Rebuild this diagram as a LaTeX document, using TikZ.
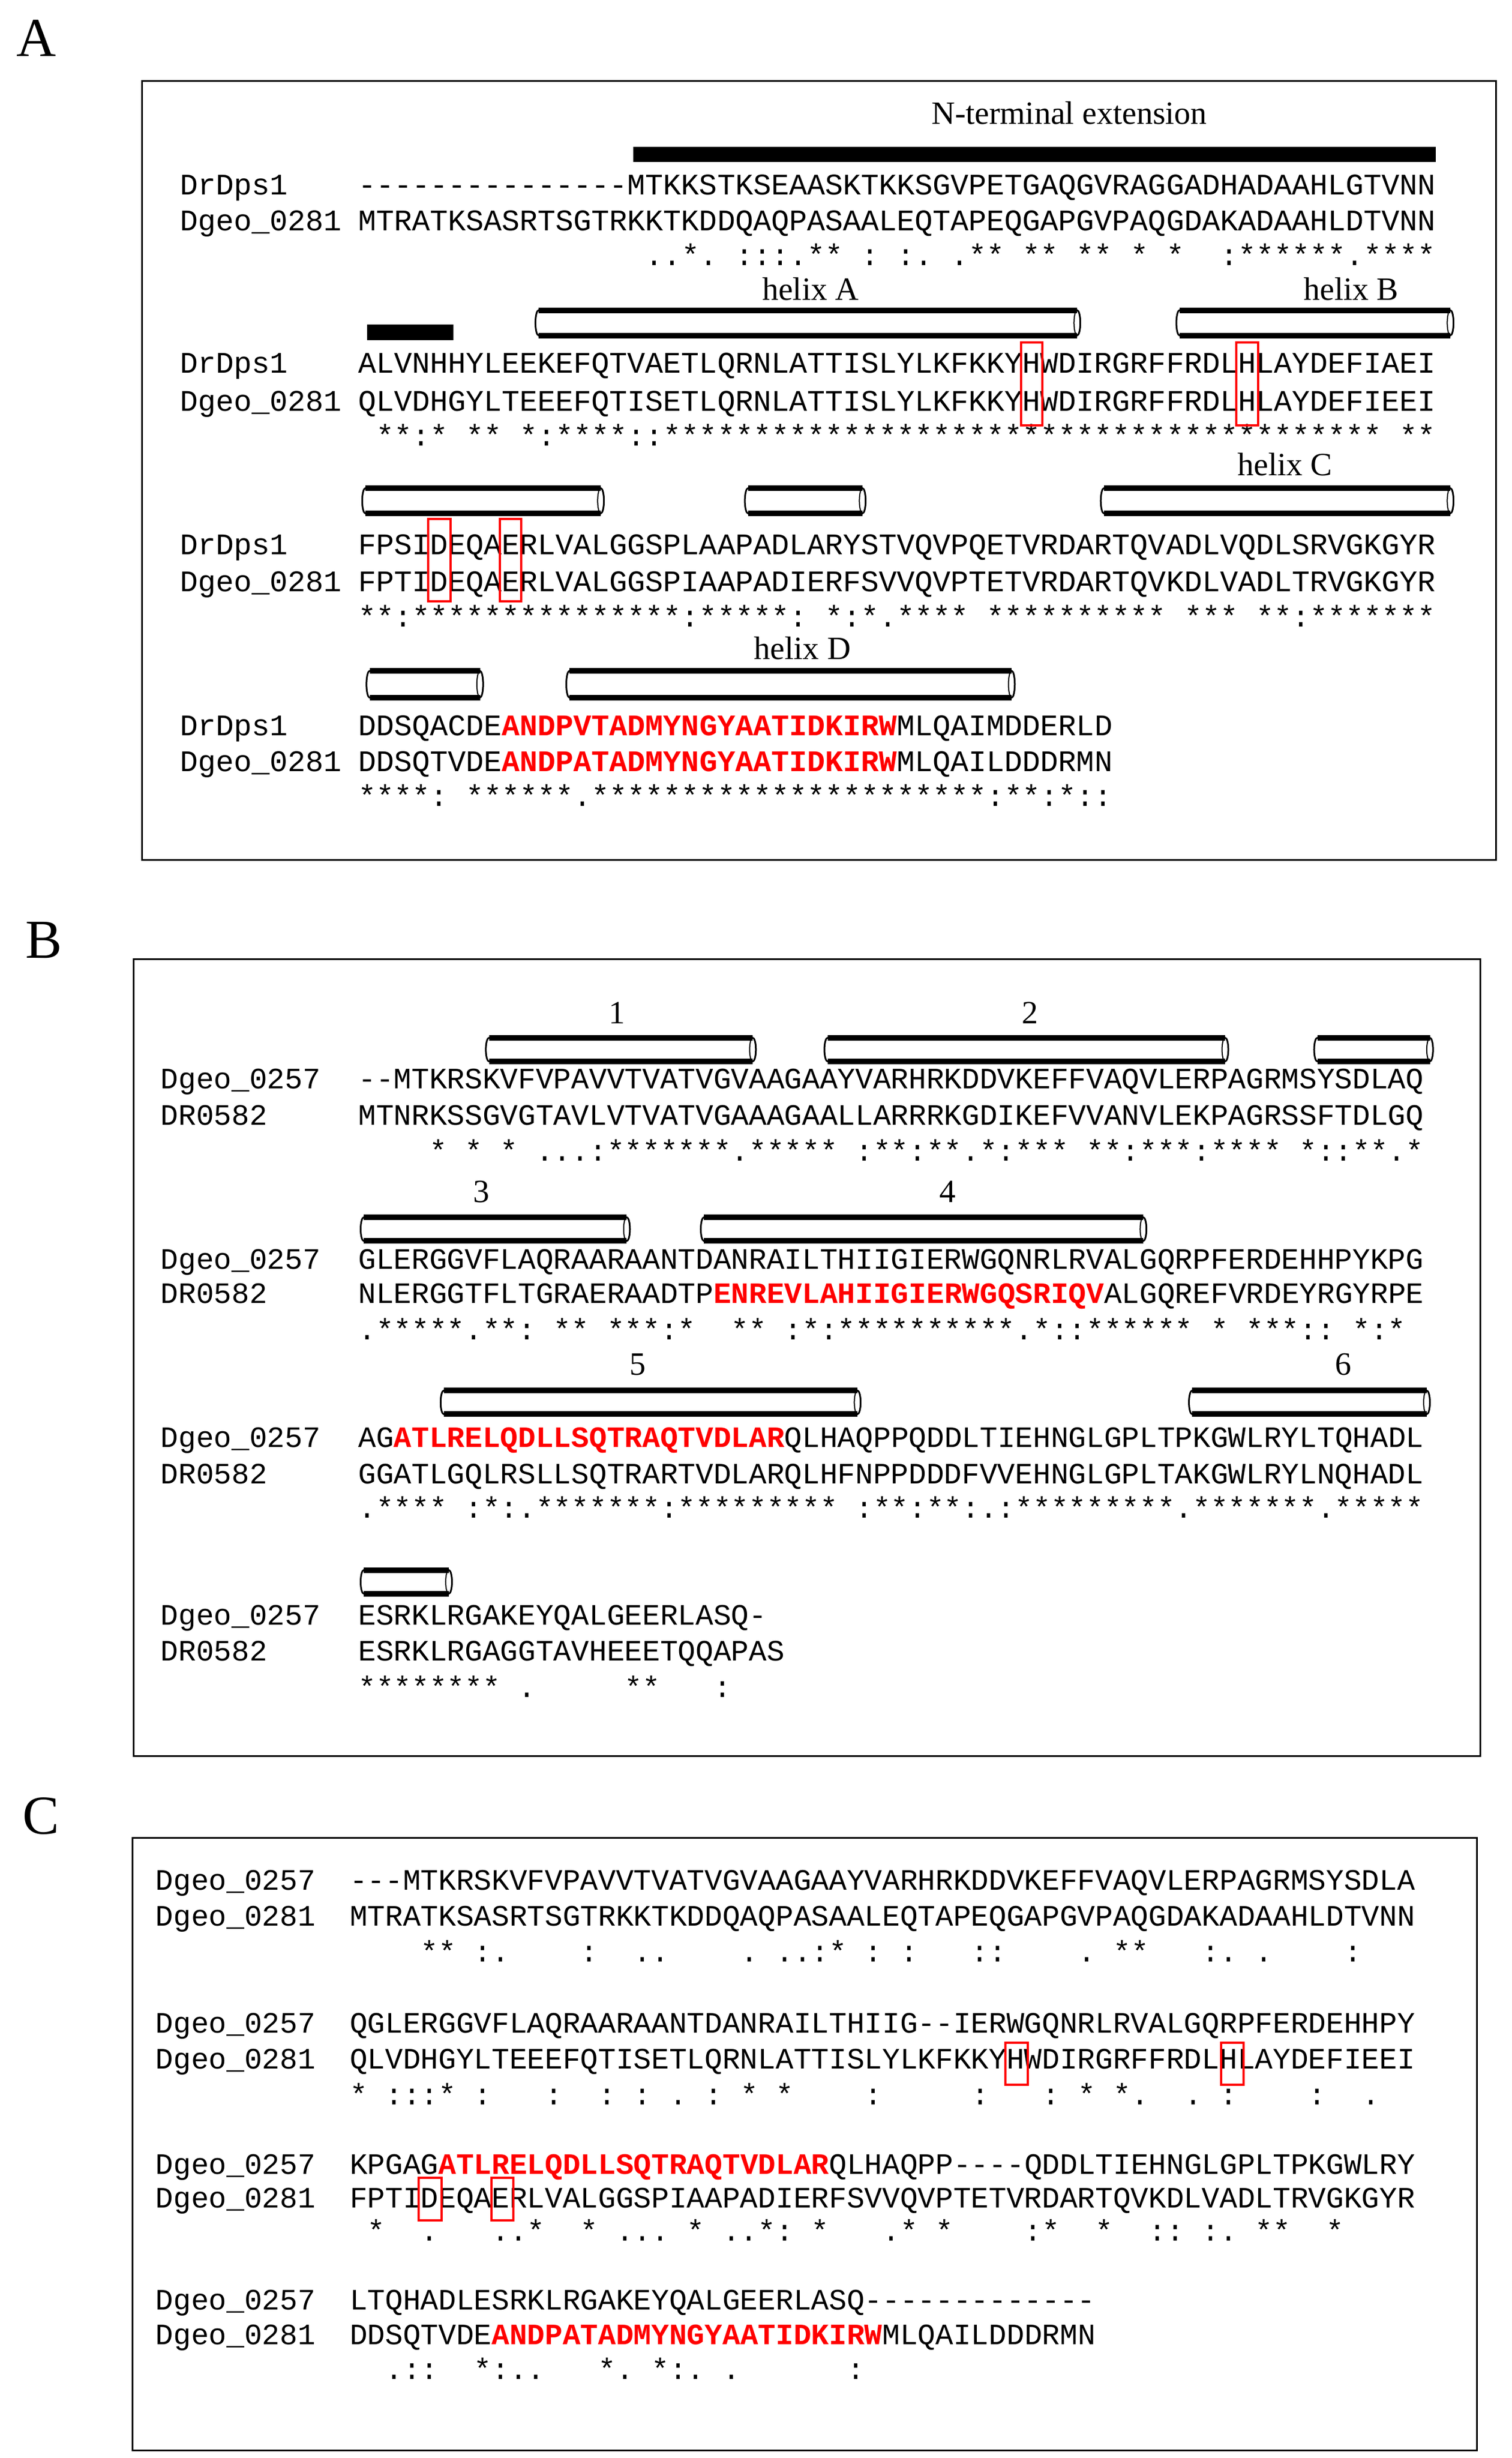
\documentclass[tikz,border=0pt]{standalone}
\usepackage{fontspec}
\setmainfont{Liberation Serif}
\setmonofont{Liberation Mono}
\newcommand\fa{\ttfamily\fontsize{53.4}{53.4}\selectfont}
\newcommand\fb{\ttfamily\fontsize{52.8}{52.8}\selectfont}
\newcommand\redb[1]{\textcolor{red}{\bfseries #1}}
\newcommand\hcyl[4]{%
  \pgfmathsetmacro\hry{(#4-#3)/2}%
  \draw[line width=3pt,fill=white] (#1+2,#3) -- (#2,#3) arc[start angle=-90,end angle=90,x radius=2,y radius=\hry] -- (#1+2,#4) arc[start angle=90,end angle=270,x radius=2,y radius=\hry] -- cycle;
  \draw[line width=10pt] (#1+2,#3) -- (#2,#3) (#1+2,#4) -- (#2,#4);
  \draw[line width=2pt] (#2,{(#3+#4)/2}) ellipse [x radius=2, y radius=\hry];
}
\begin{document}
\begin{tikzpicture}[x=2.81pt,y=-2.81pt,
  sa/.style={anchor=base west,inner sep=0,font=\fa},
  sb/.style={anchor=base west,inner sep=0,font=\fb},
  lab/.style={anchor=base,inner sep=0,font=\fontsize{58}{58}\selectfont},
  panel/.style={anchor=base,inner sep=0,font=\fontsize{98}{98}\selectfont},
  frame/.style={draw=black,line width=3pt},
  rbox/.style={draw=red,line width=4pt}]
\useasboundingbox (0,0) rectangle (960.14,1560.85);
% ---------------- Panel A
\node[panel] (pA) at (23,35.6) {A};
\draw[frame] (90.3,51.3) rectangle (950,546);
\node[lab] (nterm) at (679,78.9) {N-terminal extension};
\fill (402,93.1) rectangle (911.7,103);
\node[sa] (a1n1) at (114.4,123.5) {DrDps1};
\node[sa] (a1n2) at (114.4,146.5) {Dgeo\_0281};
\node[sa] (a1s1) at (227.4,123.5) {---------------MTKKSTKSEAASKTKKSGVPETGAQGVRAGGADHADAAHLGTVNN};
\node[sa] (a1s2) at (227.4,146.5) {MTRATKSASRTSGTRKKTKDDQAQPASAALEQTAPEQGAPGVPAQGDAKADAAHLDTVNN};
\node[sa] (a1c) at (227.4,168.5) {~~~~~~~~~~~~~~~~..*.~:::.**~:~:.~.**~**~**~*~*~~:******.****};
% row 2
\node[lab] (hA) at (514.7,190.4) {helix A};
\node[lab] (hB) at (858,190.4) {helix B};
\fill (233,206) rectangle (288,216);
\hcyl{340}{684}{197}{213}
\hcyl{747}{921}{197}{213}
\node[sa] (a2n1) at (114.4,237) {DrDps1};
\node[sa] (a2n2) at (114.4,261) {Dgeo\_0281};
\node[sa] (a2s1) at (227.4,237) {ALVNHHYLEEKEFQTVAETLQRNLATTISLYLKFKKYHWDIRGRFFRDLHLAYDEFIAEI};
\node[sa] (a2s2) at (227.4,261) {QLVDHGYLTEEEFQTISETLQRNLATTISLYLKFKKYHWDIRGRFFRDLHLAYDEFIEEI};
\node[sa] (a2c) at (227.4,283) {~**:*~**~*:****::****************************************~**};
\draw[rbox] (648.5,217.5) rectangle (662,270);
\draw[rbox] (785,217.5) rectangle (799,270);
% row 3
\node[lab] (hC) at (816,302) {helix C};
\hcyl{230}{381.5}{310}{326}
\hcyl{473}{547.7}{310}{326}
\hcyl{699}{921}{310}{326}
\node[sa] (a3n1) at (114.4,352) {DrDps1};
\node[sa] (a3n2) at (114.4,375.7) {Dgeo\_0281};
\node[sa] (a3s1) at (227.4,352) {FPSIDEQAERLVALGGSPLAAPADLARYSTVQVPQETVRDARTQVADLVQDLSRVGKGYR};
\node[sa] (a3s2) at (227.4,375.7) {FPTIDEQAERLVALGGSPIAAPADIERFSVVQVPTETVRDARTQVKDLVADLTRVGKGYR};
\node[sa] (a3c) at (227.4,398) {**:***************:*****:~*:*.****~**********~***~**:*******};
\draw[rbox] (272,329.5) rectangle (286,382);
\draw[rbox] (317.5,329.5) rectangle (331,382);
% row 4
\node[lab] (hD) at (509.5,418.5) {helix D};
\hcyl{232.7}{304.8}{426}{443}
\hcyl{359.6}{642.4}{426}{443}
\node[sa] (a4n1) at (114.4,467) {DrDps1};
\node[sa] (a4n2) at (114.4,490) {Dgeo\_0281};
\node[sa] (a4s1) at (227.4,467) {DDSQACDE\redb{ANDPVTADMYNGYAATIDKIRW}MLQAIMDDERLD};
\node[sa] (a4s2) at (227.4,490) {DDSQTVDE\redb{ANDPATADMYNGYAATIDKIRW}MLQAILDDDRMN};
\node[sa] (a4c) at (227.4,512) {****:~******.**********************:**:*::};
% ---------------- Panel B
\node[panel] (pB) at (28,608.5) {B};
\draw[frame] (85,609) rectangle (940,1115);
\node[lab] (b1) at (391.9,650) {1};
\node[lab] (b2) at (654,650) {2};
\hcyl{308.5}{478}{659}{674}
\hcyl{523.5}{778}{659}{674}
\hcyl{834.5}{908}{659}{674}
\node[sb] (b1n1) at (102,691.4) {Dgeo\_0257};
\node[sb] (b1n2) at (102,714.4) {DR0582};
\node[sb] (b1s1) at (227.5,691.4) {--MTKRSKVFVPAVVTVATVGVAAGAAYVARHRKDDVKEFFVAQVLERPAGRMSYSDLAQ};
\node[sb] (b1s2) at (227.5,714.4) {MTNRKSSGVGTAVLVTVATVGAAAGAALLARRRKGDIKEFVVANVLEKPAGRSSFTDLGQ};
\node[sb] (b1c) at (227.5,737) {~~~~*~*~*~...:*******.*****~:**:**.*:***~**:***:****~*::**.*};
\node[lab] (b3) at (305.7,763.6) {3};
\node[lab] (b4) at (601.8,763.6) {4};
\hcyl{229}{398}{773}{788}
\hcyl{445}{726}{773}{788}
\node[sb] (b2n1) at (102,805.7) {Dgeo\_0257};
\node[sb] (b2n2) at (102,827.5) {DR0582};
\node[sb] (b2s1) at (227.5,805.7) {GLERGGVFLAQRAARAANTDANRAILTHIIGIERWGQNRLRVALGQRPFERDEHHPYKPG};
\node[sb] (b2s2) at (227.5,827.5) {NLERGGTFLTGRAERAADTP\redb{ENREVLAHIIGIERWGQSRIQV}ALGQREFVRDEYRGYRPE};
\node[sb] (b2c) at (227.5,850.8) {.*****.**:~**~***:*~~**~:*:**********.*::******~*~***::~*:*};
\node[lab] (b5) at (405,873) {5};
\node[lab] (b6) at (853,873) {6};
\hcyl{279.8}{544.5}{883}{898}
\hcyl{755}{906}{883}{898}
\node[sb] (b3n1) at (102,919) {Dgeo\_0257};
\node[sb] (b3n2) at (102,942) {DR0582};
\node[sb] (b3s1) at (227.5,919) {AG\redb{ATLRELQDLLSQTRAQTVDLAR}QLHAQPPQDDLTIEHNGLGPLTPKGWLRYLTQHADL};
\node[sb] (b3s2) at (227.5,942) {GGATLGQLRSLLSQTRARTVDLARQLHFNPPDDDFVVEHNGLGPLTAKGWLRYLNQHADL};
\node[sb] (b3c) at (227.5,963.8) {.****~:*:.*******:*********~:**:**:.:*********.*******.*****};
\hcyl{229}{285}{997}{1012}
\node[sb] (b4n1) at (102,1032) {Dgeo\_0257};
\node[sb] (b4n2) at (102,1054.5) {DR0582};
\node[sb] (b4s1) at (227.5,1032) {ESRKLRGAKEYQALGEERLASQ-};
\node[sb] (b4s2) at (227.5,1054.5) {ESRKLRGAGGTAVHEEETQQAPAS};
\node[sb] (b4c) at (227.5,1077.6) {********~.~~~~~**~~~:};
% ---------------- Panel C
\node[panel] (pC) at (26,1164.5) {C};
\draw[frame] (84,1167) rectangle (938,1556);
\node[sb] (c1n1) at (98.8,1200) {Dgeo\_0257};
\node[sb] (c1n2) at (98.8,1223) {Dgeo\_0281};
\node[sb] (c1s1) at (222,1200) {---MTKRSKVFVPAVVTVATVGVAAGAAYVARHRKDDVKEFFVAQVLERPAGRMSYSDLA};
\node[sb] (c1s2) at (222,1223) {MTRATKSASRTSGTRKKTKDDQAQPASAALEQTAPEQGAPGVPAQGDAKADAAHLDTVNN};
\node[sb] (c1c) at (222,1245.6) {~~~~**~:.~~~~:~~..~~~~.~..:*~:~:~~~::~~~~.~**~~~:.~.~~~~:};
\node[sb] (c2n1) at (98.8,1291) {Dgeo\_0257};
\node[sb] (c2n2) at (98.8,1313.6) {Dgeo\_0281};
\node[sb] (c2s1) at (222,1291) {QGLERGGVFLAQRAARAANTDANRAILTHIIG--IERWGQNRLRVALGQRPFERDEHHPY};
\node[sb] (c2s2) at (222,1313.6) {QLVDHGYLTEEEFQTISETLQRNLATTISLYLKFKKYHWDIRGRFFRDLHLAYDEFIEEI};
\node[sb] (c2c) at (222,1336.3) {*~:::*~:~~~:~~:~:~.~:~*~*~~~~:~~~~~:~~~:~*~*.~~.~:~~~~:~~.};
\draw[rbox] (638.5,1297) rectangle (652.5,1324);
\draw[rbox] (775.5,1297) rectangle (789.5,1324);
\node[sb] (c3n1) at (98.8,1380.5) {Dgeo\_0257};
\node[sb] (c3n2) at (98.8,1402) {Dgeo\_0281};
\node[sb] (c3s1) at (222,1380.5) {KPGAG\redb{ATLRELQDLLSQTRAQTVDLAR}QLHAQPP----QDDLTIEHNGLGPLTPKGWLRY};
\node[sb] (c3s2) at (222,1402) {FPTIDEQAERLVALGGSPIAAPADIERFSVVQVPTETVRDARTQVKDLVADLTRVGKGYR};
\node[sb] (c3c) at (222,1423) {~*~~.~~~..*~~*~...~*~..*:~*~~~.*~*~~~~:*~~*~~::~:.~**~~*};
\draw[rbox] (266,1383) rectangle (280.5,1410);
\draw[rbox] (312,1383) rectangle (326,1410);
\node[sb] (c4n1) at (98.8,1466.6) {Dgeo\_0257};
\node[sb] (c4n2) at (98.8,1488.8) {Dgeo\_0281};
\node[sb] (c4s1) at (222,1466.6) {LTQHADLESRKLRGAKEYQALGEERLASQ-------------};
\node[sb] (c4s2) at (222,1488.8) {DDSQTVDE\redb{ANDPATADMYNGYAATIDKIRW}MLQAILDDDRMN};
\node[sb] (c4c) at (222,1511) {~~.::~~*:..~~~*.~*:.~.~~~~~~:};
\end{tikzpicture}
\end{document}
